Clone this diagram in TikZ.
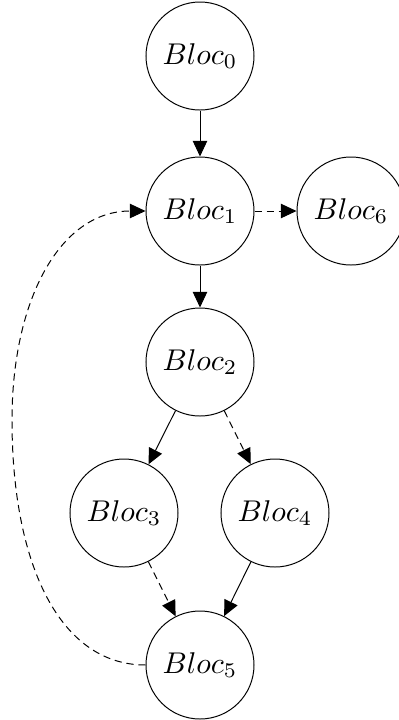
\documentclass[tikz,border=0pt]{standalone}
\usetikzlibrary{arrows.meta}
\begin{document}
\begin{tikzpicture}[x=0.3333pt,y=-0.3333pt,
  bloc/.style={draw,circle,minimum size=36pt,inner sep=0pt,line width=0.33pt},
  edge/.style={line width=0.33pt,-{Triangle[length=5.2pt,width=4.8pt]}},
  dedge/.style={edge,dash pattern=on 2.4pt off 1.6pt}]
\useasboundingbox (0,0) rectangle (399,720);
\node[bloc] (b0) at (200,56) {$Bloc_0$};
\node[bloc] (b1) at (200,211) {$Bloc_1$};
\node[bloc] (b6) at (351,211) {$Bloc_6$};
\node[bloc] (b2) at (200,362) {$Bloc_2$};
\node[bloc] (b3) at (124,513) {$Bloc_3$};
\node[bloc] (b4) at (275,513) {$Bloc_4$};
\node[bloc] (b5) at (200,665) {$Bloc_5$};
\draw[edge] (b0) -- (b1);
\draw[edge] (b1) -- (b2);
\draw[dedge] (b1) -- (b6);
\draw[edge] (b2) -- (b3);
\draw[dedge] (b2) -- (b4);
\draw[dedge] (b3) -- (b5);
\draw[edge] (b4) -- (b5);
\coordinate (m) at (12,420);
\draw[dedge] (b5.west) .. controls (60,665) and (12,565) .. (m)
  .. controls (12,300) and (60,211) .. (b1.west);
\end{tikzpicture}
\end{document}
